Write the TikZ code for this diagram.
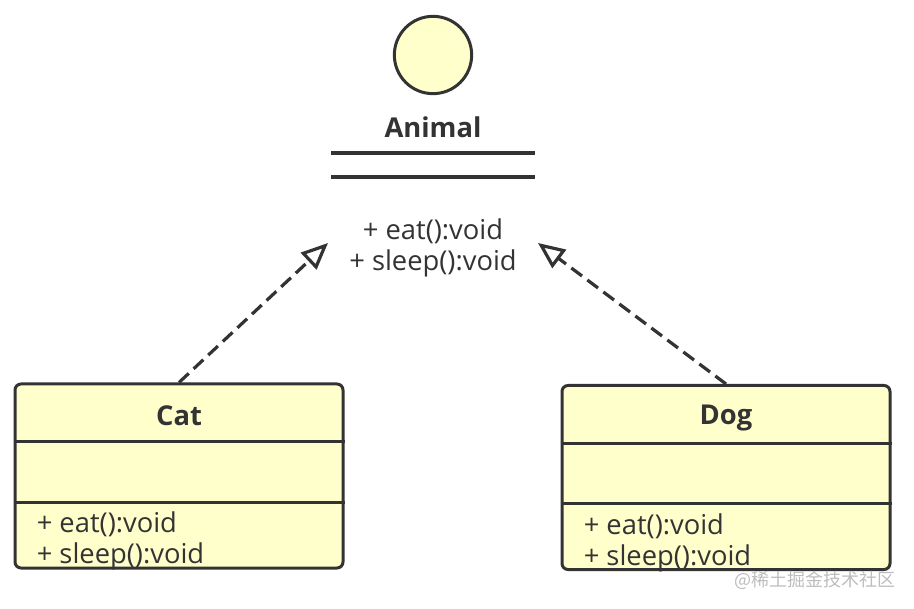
\documentclass[tikz,border=0pt]{standalone}
\usepackage{fontspec}
\setmainfont{Open Sans}
\newfontfamily\cjkfont{Noto Sans CJK SC}
\usetikzlibrary{positioning,arrows.meta,calc}
\definecolor{umlfill}{HTML}{FFFFCC}
\definecolor{umlline}{HTML}{333333}
\definecolor{markgray}{HTML}{BDBDBD}

\begin{document}
\begin{tikzpicture}[x=0.75pt,y=-0.75pt]
	\tikzstyle{every node}+=[inner sep=0pt, text=umlline, font=\fontsize{20.5}{24}\selectfont]
	\tikzstyle{classbox}=[draw=umlline, fill=umlfill, line width=2.25pt, rounded corners=4.5pt, minimum width=246pt, minimum height=138pt]
	\tikzstyle{classname}=[font=\fontsize{20.5}{24}\selectfont\bfseries]
	\tikzstyle{member}=[anchor=west]
	\tikzstyle{divider}=[draw=umlline, line width=2.25pt]
	\tikzstyle{realize}=[draw=umlline, line width=2.4pt, dash pattern=on 10pt off 5pt, -{Triangle[open,length=20pt,width=17pt]}]
	\useasboundingbox (0,0) rectangle (914,609);
	% interface Animal
	\node [circle, draw=umlline, fill=umlfill, line width=2.25pt, minimum size=58pt] (lollipop) at (433,55) {};
	\node [classname] (animal) at (433,127) {Animal};
	\draw [divider, line width=2.6pt] (331,153) -- (535,153);
	\draw [divider, line width=2.6pt] (331,177) -- (535,177);
	\node (animalEat) at (433,231) {+ eat():void};
	\node (animalSleep) at (433,263) {+ sleep():void};
	% class Cat
	\node [classbox] (cat) at (179,476) {};
	\draw [divider] ($(cat.north west)+(0,59.5)$) -- ($(cat.north east)+(0,59.5)$);
	\draw [divider] ($(cat.north west)+(0,119.5)$) -- ($(cat.north east)+(0,119.5)$);
	\node [classname] (catName) at ($(cat.north)+(0,33)$) {Cat};
	\node [member] (catEat) at ($(cat.north west)+(23,141.5)$) {+ eat():void};
	\node [member] (catSleep) at ($(cat.north west)+(23,173.5)$) {+ sleep():void};
	% class Dog
	\node [classbox] (dog) at (726,477.5) {};
	\draw [divider] ($(dog.north west)+(0,59.5)$) -- ($(dog.north east)+(0,59.5)$);
	\draw [divider] ($(dog.north west)+(0,119.5)$) -- ($(dog.north east)+(0,119.5)$);
	\node [classname] (dogName) at ($(dog.north)+(0,34)$) {Dog};
	\node [member] (dogEat) at ($(dog.north west)+(23,142.5)$) {+ eat():void};
	\node [member] (dogSleep) at ($(dog.north west)+(23,174.5)$) {+ sleep():void};
	% realization
	\coordinate (catTip) at (328,243);
	\coordinate (dogTip) at (538,243);
	\draw [realize] (cat.north) -- (catTip);
	\draw [realize] (dog.north) -- (dogTip);
	% watermark
	\node [anchor=east, text=markgray, font=\cjkfont\fontsize{13.5}{16}\selectfont] (mark) at (896,580) {@稀土掘金技术社区};
\end{tikzpicture}
\end{document}
